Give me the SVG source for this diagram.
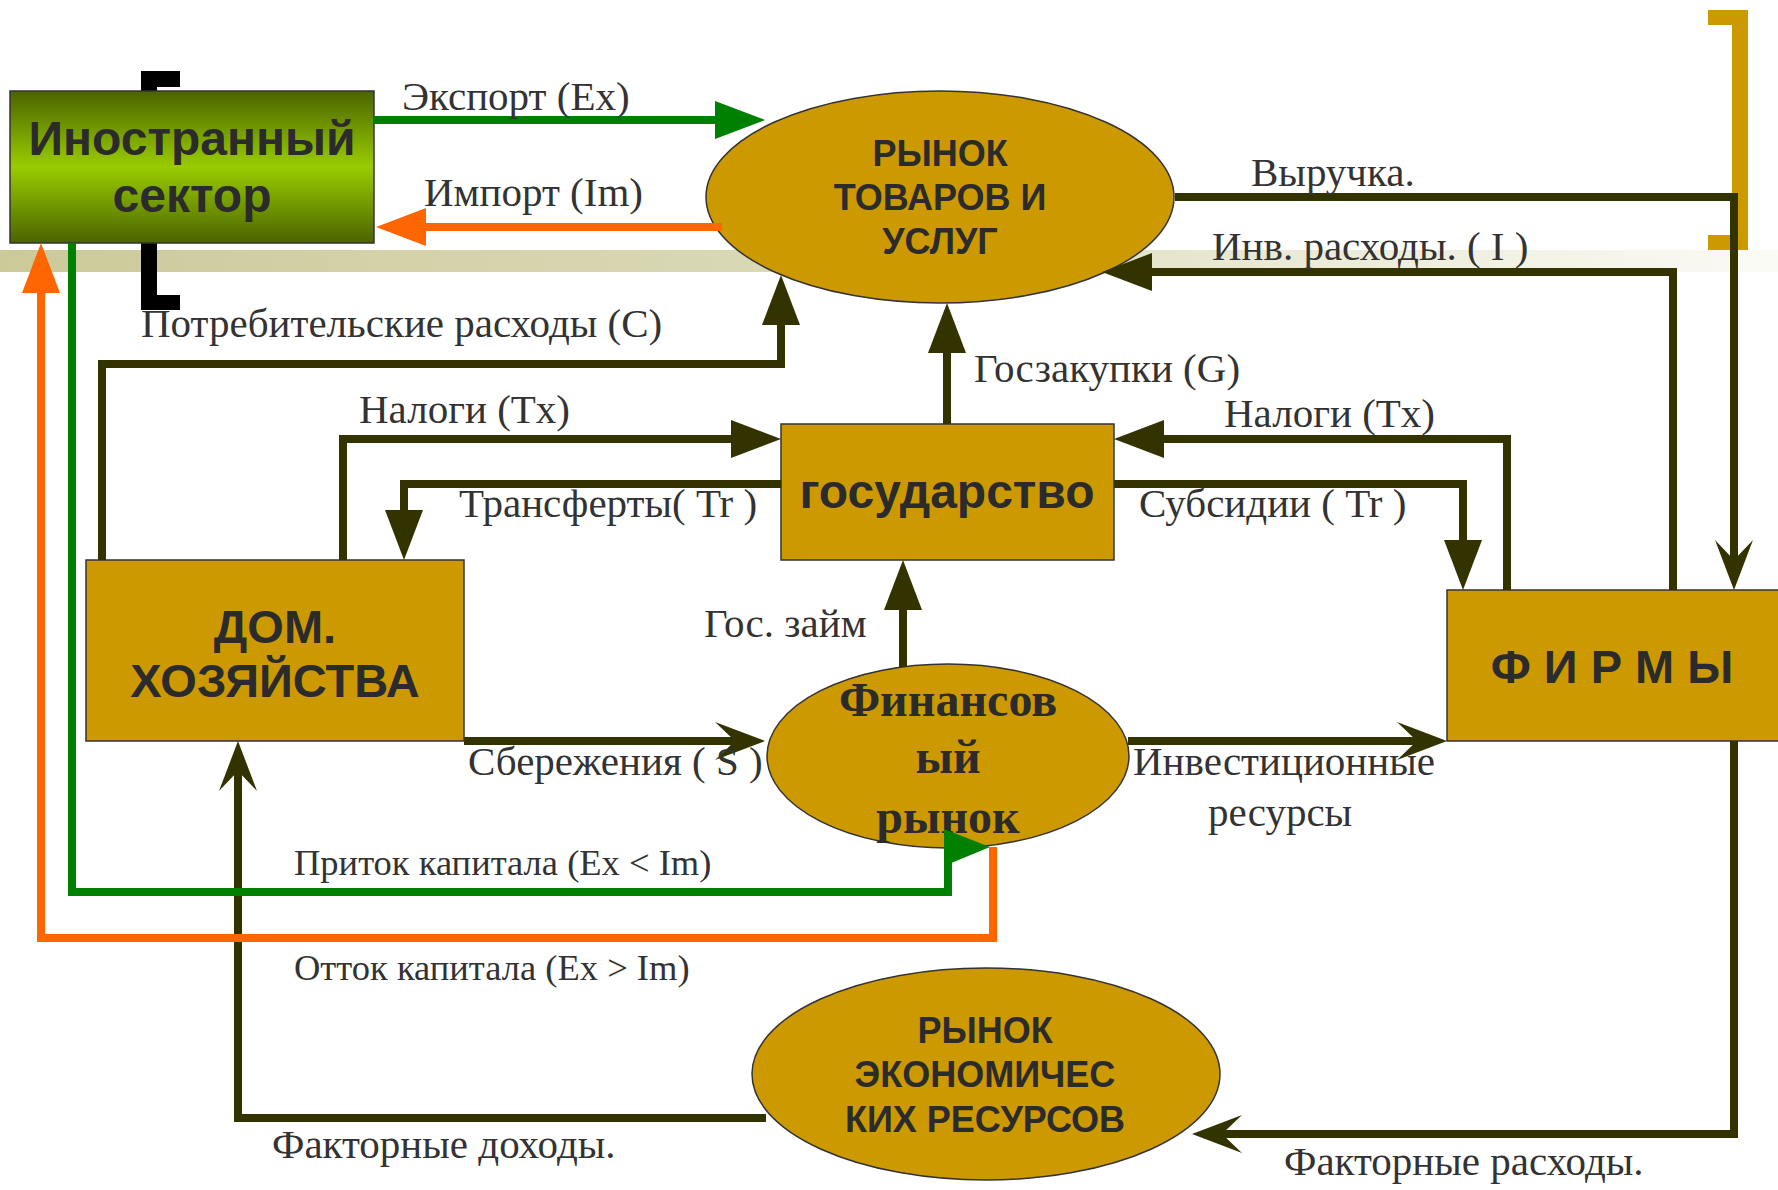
<svg xmlns="http://www.w3.org/2000/svg" width="1778" height="1190" viewBox="0 0 1778 1190">
<defs>
<linearGradient id="gGreen" x1="0" y1="0" x2="0" y2="1">
<stop offset="0" stop-color="#4B6400"/>
<stop offset="0.5" stop-color="#99CC00"/>
<stop offset="1" stop-color="#4B6400"/>
</linearGradient>
<linearGradient id="gBand" x1="0" y1="0" x2="1" y2="0">
<stop offset="0" stop-color="#CCCA99"/>
<stop offset="0.5" stop-color="#DCDBBB"/>
<stop offset="1" stop-color="#FBFBF6"/>
</linearGradient>
<marker id="triD" markerUnits="userSpaceOnUse" viewBox="0 0 50 38" refX="0" refY="19" markerWidth="50" markerHeight="38" orient="auto">
<path d="M0,0 L50,19 L0,38 Z" fill="#333300"/>
</marker>
<marker id="triG" markerUnits="userSpaceOnUse" viewBox="0 0 50 38" refX="0" refY="19" markerWidth="50" markerHeight="38" orient="auto">
<path d="M0,0 L50,19 L0,38 Z" fill="#008000"/>
</marker>
<marker id="triO" markerUnits="userSpaceOnUse" viewBox="0 0 50 38" refX="0" refY="19" markerWidth="50" markerHeight="38" orient="auto">
<path d="M0,0 L50,19 L0,38 Z" fill="#FF6600"/>
</marker>
<marker id="stealth" markerUnits="userSpaceOnUse" viewBox="0 0 50 38" refX="20" refY="19" markerWidth="50" markerHeight="38" orient="auto">
<path d="M0,0 L50,19 L0,38 L20,19 Z" fill="#333300"/>
</marker>
<style>
.node{fill:#CC9900;stroke:#333333;stroke-width:1.5}
.nt{font-family:"Liberation Sans",Arial,sans-serif;font-weight:bold;fill:#2B2B2B;text-anchor:middle}
.ns{font-family:"Liberation Serif","Times New Roman",serif;font-weight:bold;fill:#2B2B2B;text-anchor:middle;font-size:48px}
.lbl{font-family:"Liberation Serif","Times New Roman",serif;font-size:41px;fill:#333333}
.sm{font-size:36.5px}
.c{fill:none;stroke:#333300;stroke-width:8}
.cg{fill:none;stroke:#008000;stroke-width:8}
.co{fill:none;stroke:#FF6600;stroke-width:8}
</style>
</defs>
<g id="background">
<rect x="0" y="250" width="1778" height="22" fill="url(#gBand)"/>
<path d="M180,71 H141 V310 H180 V295 H157 V87 H180 Z" fill="#000000"/>
<path d="M1708,10 H1748 V250 H1708 V235 H1732 V25 H1708 Z" fill="#CC9900"/>
</g>
<g id="node-foreign">
<rect x="10" y="91" width="364" height="152" fill="url(#gGreen)" stroke="#333333" stroke-width="1.5"/>
<text class="nt" x="192" y="155" font-size="48">Иностранный</text>
<text class="nt" x="192" y="212" font-size="48">сектор</text>
</g>
<g id="node-goods-market">
<ellipse class="node" cx="940" cy="197" rx="234" ry="106"/>
<text class="nt" x="940" y="166" font-size="36">РЫНОК</text>
<text class="nt" x="940" y="210" font-size="36">ТОВАРОВ И</text>
<text class="nt" x="940" y="254" font-size="36">УСЛУГ</text>
</g>
<g id="node-government">
<rect class="node" x="781" y="424" width="333" height="136"/>
<text class="nt" x="947" y="508" font-size="48">государство</text>
</g>
<g id="node-households">
<rect class="node" x="86" y="560" width="378" height="181"/>
<text class="nt" x="275" y="643" font-size="47">ДОМ.</text>
<text class="nt" x="275" y="697" font-size="47">ХОЗЯЙСТВА</text>
</g>
<g id="node-firms">
<rect class="node" x="1447" y="590" width="345" height="151"/>
<text class="nt" x="1612" y="683" font-size="47">Ф И Р М Ы</text>
</g>
<g id="node-financial-market">
<ellipse class="node" cx="948" cy="756" rx="181" ry="92"/>
<text class="ns" x="948" y="716">Финансов</text>
<text class="ns" x="948" y="773">ый</text>
<text class="ns" x="948" y="833">рынок</text>
</g>
<g id="node-resource-market">
<ellipse class="node" cx="986" cy="1074" rx="234" ry="106"/>
<text class="nt" x="985" y="1043" font-size="36">РЫНОК</text>
<text class="nt" x="985" y="1087" font-size="36">ЭКОНОМИЧЕС</text>
<text class="nt" x="985" y="1132" font-size="36">КИХ РЕСУРСОВ</text>
</g>
<g id="connectors">
<path class="cg" d="M374,120 H715" marker-end="url(#triG)"/>
<path class="co" d="M722,227 H426" marker-end="url(#triO)"/>
<path class="c" d="M102,560 V364 H781 V325" marker-end="url(#triD)"/>
<path class="c" d="M1175,197 H1734 V560" marker-end="url(#stealth)"/>
<path class="c" d="M1673,590 V272 H1152" marker-end="url(#triD)"/>
<path class="c" d="M947,424 V353" marker-end="url(#triD)"/>
<path class="c" d="M343,560 V439 H731" marker-end="url(#triD)"/>
<path class="c" d="M781,484 H404 V510" marker-end="url(#triD)"/>
<path class="c" d="M1507,590 V439 H1164" marker-end="url(#triD)"/>
<path class="c" d="M1114,484 H1463 V540" marker-end="url(#triD)"/>
<path class="c" d="M903,667 V610" marker-end="url(#triD)"/>
<path class="c" d="M464,741 H735" marker-end="url(#stealth)"/>
<path class="c" d="M1128,741 H1417" marker-end="url(#stealth)"/>
<path class="c" d="M1734,741 V1134 H1222" marker-end="url(#stealth)"/>
<path class="c" d="M766,1118 H238 V771" marker-end="url(#stealth)"/>
<path class="cg" d="M72,243 V892 H948 V847"/>
<polygon points="944,829 990,847 944,866" fill="#008000"/>
<path class="co" d="M993,847 V938 H41 V293" marker-end="url(#triO)"/>
<text class="lbl" x="402" y="110">Экспорт (Ex)</text>
<text class="lbl" x="424" y="206">Импорт (Im)</text>
<text class="lbl" x="141" y="337">Потребительские расходы (C)</text>
<text class="lbl" x="1251" y="186">Выручка.</text>
<text class="lbl" x="1212" y="260">Инв. расходы. ( I )</text>
<text class="lbl" x="974" y="382">Госзакупки (G)</text>
<text class="lbl" x="359" y="423">Налоги (Tx)</text>
<text class="lbl" x="459" y="517">Трансферты( Tr )</text>
<text class="lbl" x="1224" y="427">Налоги (Tx)</text>
<text class="lbl" x="1139" y="517">Субсидии ( Tr )</text>
<text class="lbl" x="704" y="637">Гос. займ</text>
<text class="lbl" x="468" y="775">Сбережения ( S )</text>
<text class="lbl" x="1133" y="775">Инвестиционные</text>
<text class="lbl" x="1208" y="826">ресурсы</text>
<text class="lbl sm" x="294" y="875">Приток капитала (Ex &lt; Im)</text>
<text class="lbl sm" x="294" y="980">Отток капитала (Ex &gt; Im)</text>
<text class="lbl" x="272" y="1158">Факторные доходы.</text>
<text class="lbl" x="1284" y="1175">Факторные расходы.</text>
</g>
</svg>
